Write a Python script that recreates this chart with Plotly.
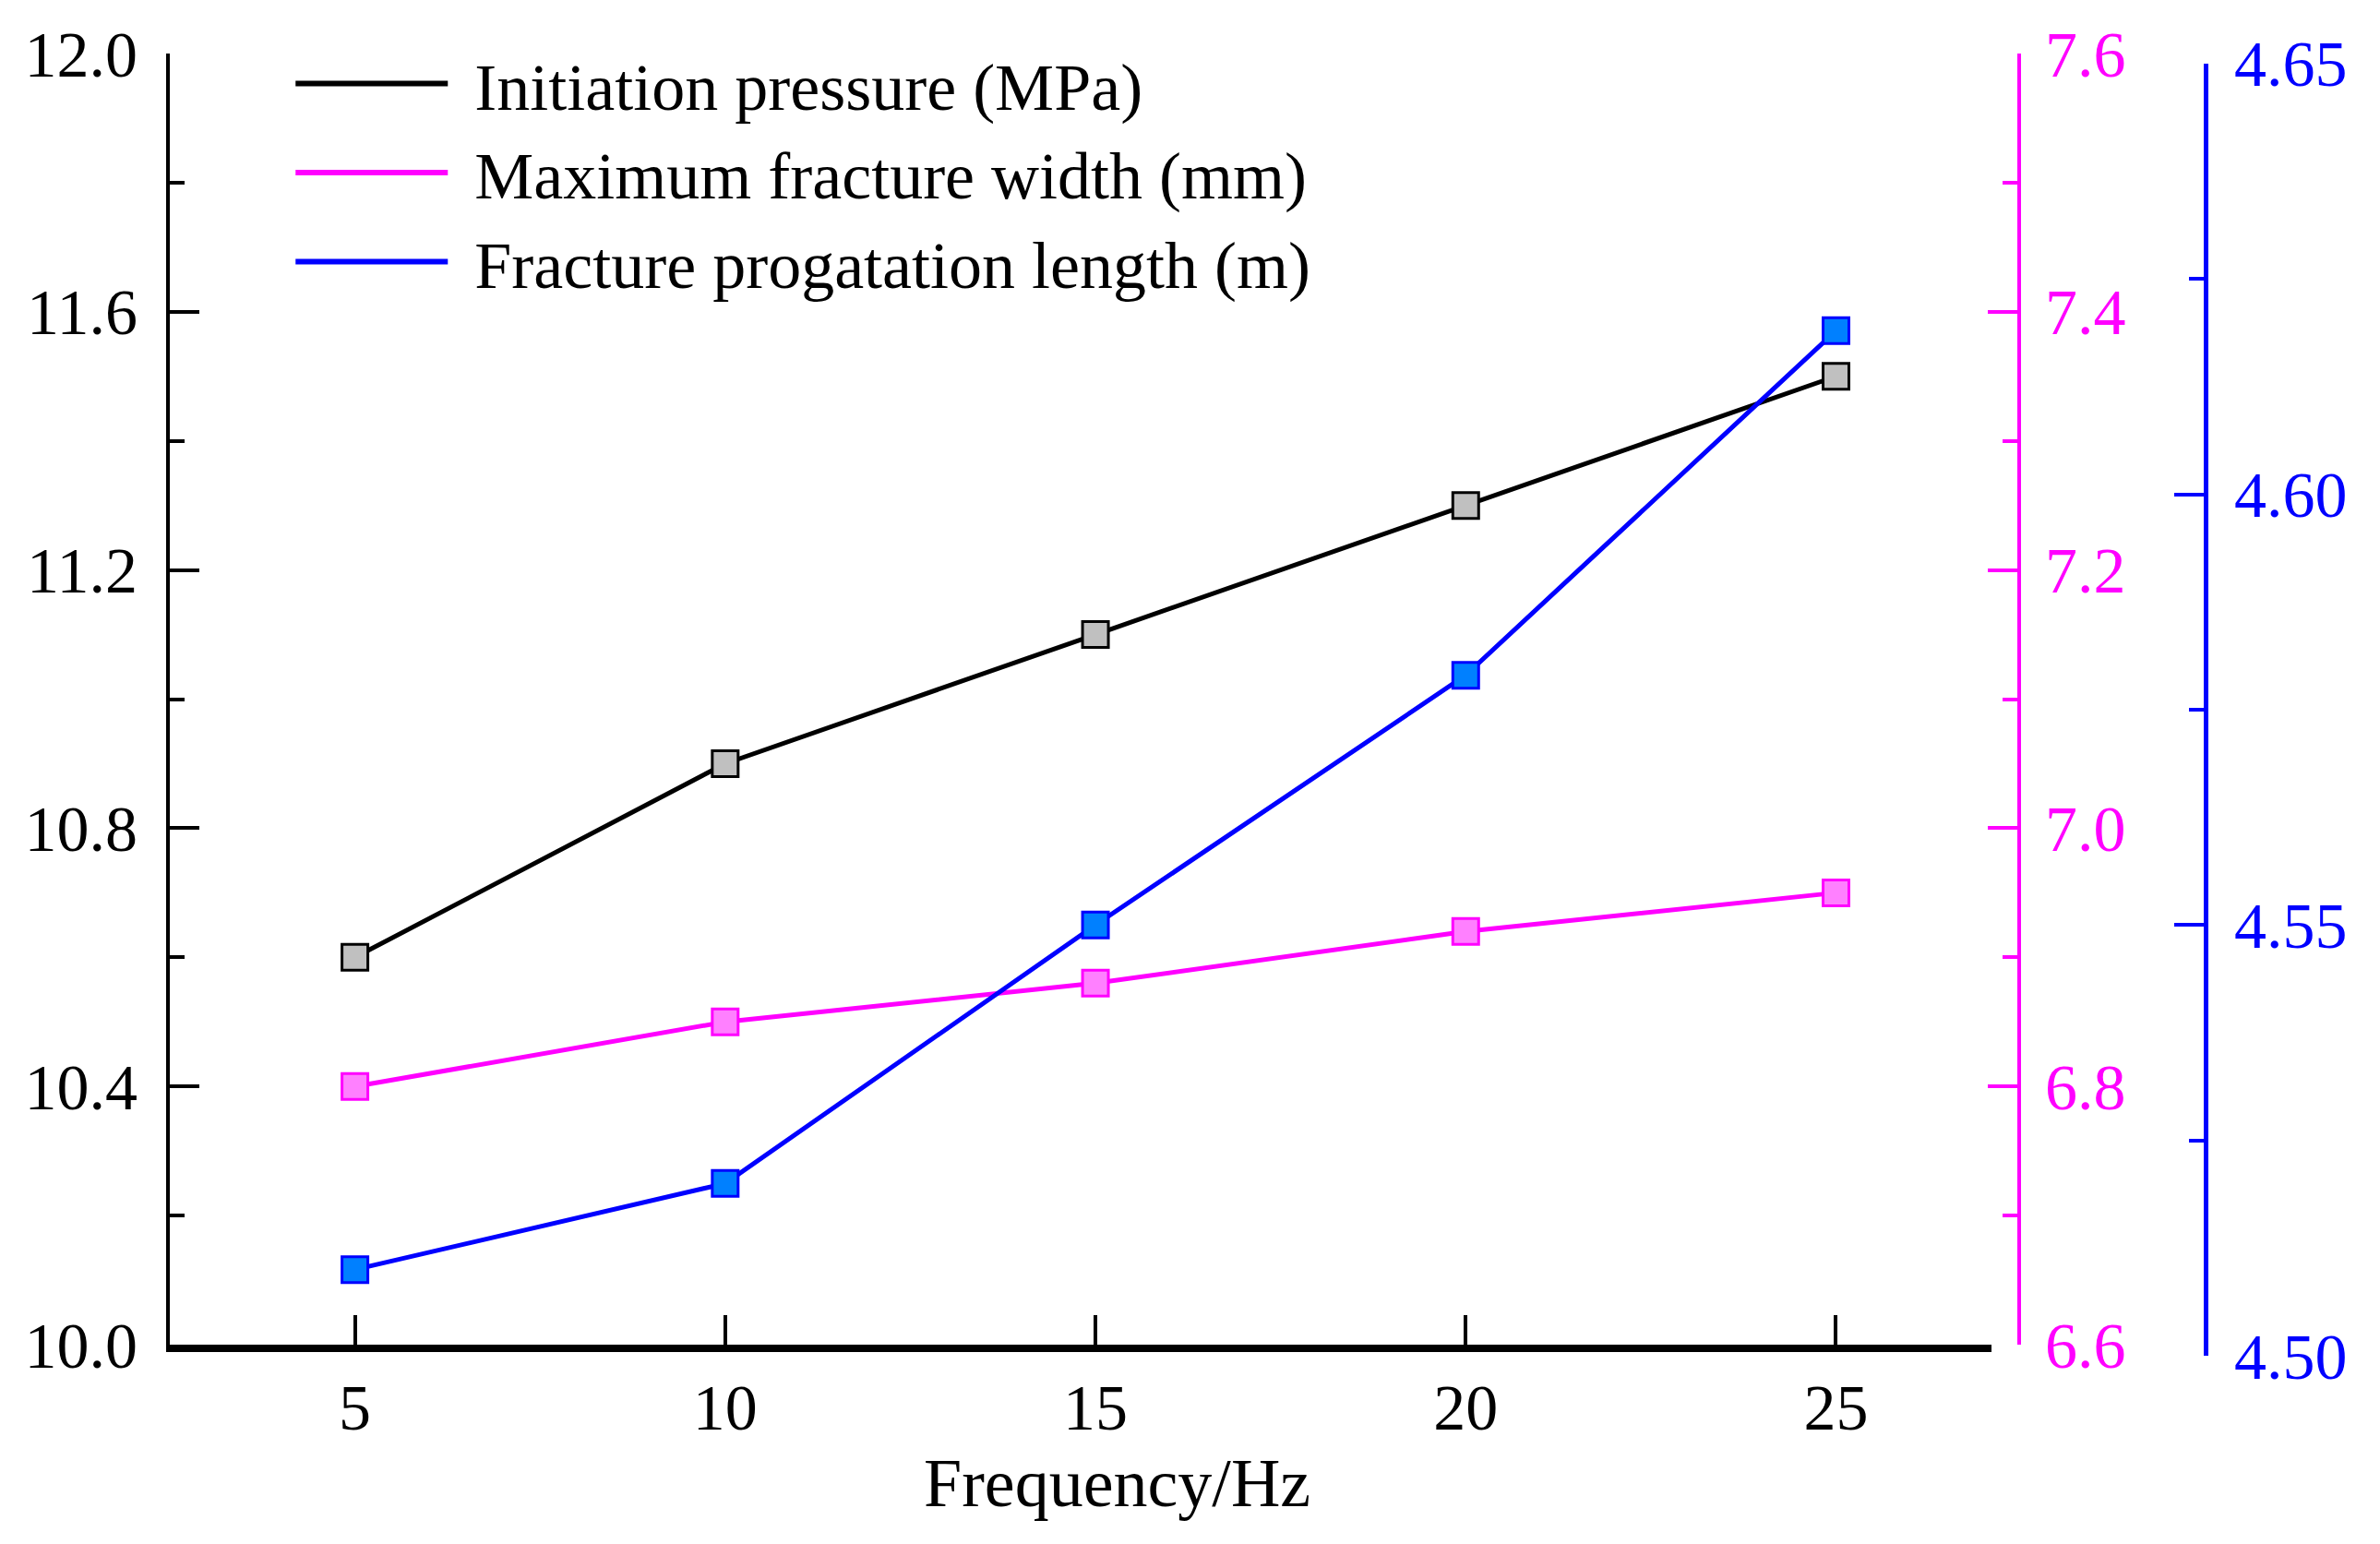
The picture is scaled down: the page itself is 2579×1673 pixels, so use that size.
import plotly.graph_objects as go

# data
freq = [5, 10, 15, 20, 25]
initPressure = [10.6, 10.9, 11.1, 11.3, 11.5]
maxWidth = [6.80, 6.85, 6.88, 6.92, 6.95]
propLength = [4.510, 4.520, 4.550, 4.579, 4.619]

names = ["Initiation pressure (MPa)", "Maximum fracture width (mm)", "Fracture progatation length (m)"]
lineColors = ["black", "#ff00ff", "#0000ff"]
fillColors = ["#c0c0c0", "#ff80ff", "#0080ff"]

fontName = "Liberation Serif, Times New Roman, serif"
tickSz = 70
legSz = 72

# plot area in px (page is offset by the body margin)
plotW = 2579 - 176 - 100
plotH = 1673 - 45 - 212

fig = go.Figure()

series = [(initPressure, "y"), (maxWidth, "y2"), (propLength, "y3")]
for i, (vals, ax) in enumerate(series):
    fig.add_trace(go.Scatter(x=freq, y=vals, yaxis=ax, mode="lines+markers",
                             line=dict(color=lineColors[i], width=5),
                             marker=dict(symbol="square", size=28, color=fillColors[i],
                                         line=dict(color=lineColors[i], width=3)),
                             showlegend=False))

# legend shows only lines
for i in range(3):
    fig.add_trace(go.Scatter(x=[None], y=[None], mode="lines", name="\u00a0\u200a" + names[i],
                             line=dict(color=lineColors[i], width=6)))

fig.update_layout(
    width=2579, height=1673,
    margin=dict(l=176, r=100, t=45, b=212),
    paper_bgcolor="white", plot_bgcolor="rgba(0,0,0,0)",
    font=dict(family=fontName, size=tickSz, color="black"),
    showlegend=True,
    legend=dict(x=0.057, y=1.0148, xanchor="left", yanchor="top", bgcolor="rgba(0,0,0,0)",
                font=dict(size=legSz, color="black"), itemwidth=165, tracegroupgap=0),
    xaxis=dict(domain=[0, 1974 / plotW], range=[2.5, 27.1], anchor="y",
               tickmode="array", tickvals=freq, ticks="inside", ticklen=32, tickwidth=4,
               tickcolor="black", showline=True, linecolor="black", linewidth=8,
               showgrid=False, zeroline=False, ticklabelstandoff=0,
               tickfont=dict(size=tickSz, color="black")),
    yaxis=dict(domain=[12 / plotH, 1], range=[10.0, 12.0], dtick=0.4, tick0=10.0,
               tickformat=".1f", ticks="inside", ticklen=32, tickwidth=4, tickcolor="black",
               minor=dict(dtick=0.2, ticks="inside", ticklen=16, tickwidth=4, tickcolor="black"),
               showline=True, linecolor="black", linewidth=4, showgrid=False, zeroline=False,
               ticklabelstandoff=17, tickfont=dict(size=tickSz, color="black")),
    yaxis2=dict(overlaying="y", anchor="free", side="right", position=2004 / plotW,
                range=[6.6, 7.6], dtick=0.2, tick0=6.6, tickformat=".1f",
                ticks="inside", ticklen=32, tickwidth=4, tickcolor="#ff00ff",
                minor=dict(dtick=0.1, ticks="inside", ticklen=16, tickwidth=4, tickcolor="#ff00ff"),
                showline=True, linecolor="#ff00ff", linewidth=4, showgrid=False, zeroline=False,
                ticklabelstandoff=12, tickfont=dict(size=tickSz, color="#ff00ff")),
    yaxis3=dict(domain=[0, 1 - 11 / plotH], anchor="free", side="right", position=2206 / plotW,
                range=[4.50, 4.65], dtick=0.05, tick0=4.50, tickformat=".2f",
                ticks="inside", ticklen=32, tickwidth=4, tickcolor="#0000ff",
                minor=dict(dtick=0.025, ticks="inside", ticklen=16, tickwidth=4, tickcolor="#0000ff"),
                showline=True, linecolor="#0000ff", linewidth=5, showgrid=False, zeroline=False,
                ticklabelstandoff=14, tickfont=dict(size=tickSz, color="#0000ff")),
)

fig.add_annotation(text="Frequency/Hz", xref="paper", yref="paper",
                   x=1026 / plotW, y=-0.0977, xanchor="center", yanchor="middle",
                   showarrow=False, font=dict(size=74, color="black", family=fontName))

fig.write_html("out.html")
